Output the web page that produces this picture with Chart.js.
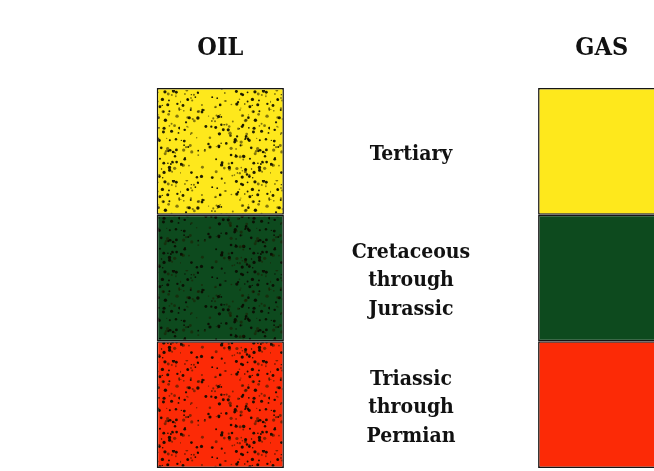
<!DOCTYPE html>
<html>
<head>
<meta charset="utf-8">
<script src="https://cdn.jsdelivr.net/npm/chart.js@4.4.1/dist/chart.umd.min.js"></script>
<style>
  html, body { margin: 0; padding: 0; background: #fff; overflow: hidden; }
  #wrap { width: 700px; height: 471px; }
</style>
</head>
<body>
<div id="wrap"><canvas id="legendChart" width="700" height="471"></canvas></div>
<script>
// columns across the page; the empty middle slot holds the period names
const columns = ["OIL", "", "GAS"];
// periods listed top to bottom, as printed
const periods = ["Tertiary", "Cretaceous\nthrough\nJurassic", "Triassic\nthrough\nPermian"];
const oilThickness = [1, 1, 1];
const gasThickness = [1, 1, 1];
const periodColors = ["#fee81c", "#0d4a1e", "#fc2a06"];

const serif = '"DejaVu Serif Condensed", "Liberation Serif", serif';

// speckled fill used for the oil column
function makeStipple(base) {
  const c = document.createElement("canvas");
  c.width = 90;
  c.height = 90;
  const g = c.getContext("2d");
  g.fillStyle = base;
  g.fillRect(0, 0, 90, 90);
  let seed = 7;
  const next = () => {
    seed = (seed * 16807) % 2147483647;
    return seed / 2147483647;
  };
  for (let i = 0; i < 230; i++) {
    const x = next() * 90;
    const y = next() * 90;
    const r = 0.6 + next() * 1.1;
    g.fillStyle = next() > 0.45 ? "rgba(10,10,0,0.9)" : "rgba(30,25,0,0.55)";
    g.beginPath();
    g.arc(x, y, r, 0, Math.PI * 2);
    g.fill();
  }
  return g.createPattern(c, "repeat");
}

const ctx = document.getElementById("legendChart").getContext("2d");

// chart stacks from the bottom, so walk the periods in reverse
const datasets = periods.map((name, i) => ({
  label: name,
  data: [oilThickness[i], null, gasThickness[i]],
  backgroundColor: [makeStipple(periodColors[i]), "transparent", periodColors[i]],
  borderColor: "#151515",
  borderWidth: 1.5,
  borderSkipped: false,
  categoryPercentage: 1,
  barPercentage: 0.667
})).reverse();

const periodLabels = {
  id: "periodLabels",
  afterDatasetsDraw(chart) {
    const x = chart.scales.x.getPixelForValue(1);
    const y = chart.scales.y;
    const g = chart.ctx;
    g.save();
    g.font = "bold 21px " + serif;
    g.fillStyle = "#111";
    g.textAlign = "center";
    g.textBaseline = "middle";
    let top = oilThickness.reduce((a, b) => a + b, 0);
    periods.forEach((name, i) => {
      const mid = top - oilThickness[i] / 2;
      top -= oilThickness[i];
      const lines = name.split("\n");
      const cy = y.getPixelForValue(mid) + 3;
      const lh = 28.5;
      lines.forEach((line, k) => {
        g.fillText(line, x, cy + (k - (lines.length - 1) / 2) * lh);
      });
    });
    g.restore();
  }
};

new Chart(ctx, {
  type: "bar",
  data: { labels: columns, datasets },
  options: {
    responsive: false,
    animation: false,
    layout: { padding: { left: 125, right: 3, top: 9, bottom: 3 } },
    scales: {
      x: {
        stacked: true,
        position: "top",
        grid: { display: false, drawTicks: false },
        border: { display: false },
        ticks: {
          color: "#111",
          padding: 24.5,
          font: { family: serif, size: 25, weight: "bold" }
        }
      },
      y: {
        stacked: true,
        min: 0,
        max: 3,
        display: false
      }
    },
    plugins: {
      legend: { display: false },
      tooltip: { enabled: false }
    }
  },
  plugins: [periodLabels]
});
</script>
</body>
</html>
